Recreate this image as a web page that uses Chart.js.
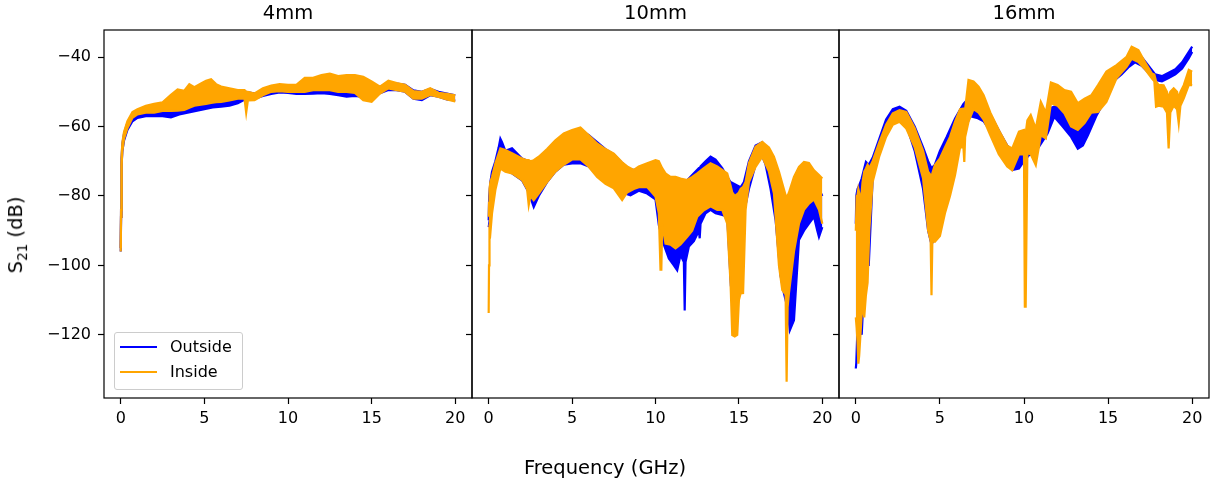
<!DOCTYPE html>
<html>
<head>
<meta charset="utf-8">
<script src="https://cdn.jsdelivr.net/npm/chart.js@4.4.0/dist/chart.umd.min.js"></script>
<style>
  body { margin: 0; background: #fff; }
  #fig { position: relative; width: 1224px; height: 487px; background: #fff; font-family: 'DejaVu Sans', sans-serif; color: #000; }
  canvas { position: absolute; top: 0; }
  .lbl { position: absolute; white-space: nowrap; font-size: 19.5px; }
  #legend { position: absolute; left: 114px; top: 332px; width: 127px; height: 56px; border: 1px solid #ccc; border-radius: 3px; background: rgba(255,255,255,0.8); font-size: 16px; }
  .row { position: absolute; left: 0; height: 20px; }
  .swatch { position: absolute; left: 5px; width: 37px; height: 2.4px; }
  .row span { position: absolute; left: 55px; top: 0; line-height: 20px; }
</style>
</head>
<body>
<div id="fig">
  <canvas id="c4" width="473" height="487" style="left:0px;width:473px;height:487px"></canvas>
  <canvas id="c10" width="378" height="487" style="left:462px;width:378px;height:487px"></canvas>
  <canvas id="c16" width="395" height="487" style="left:829px;width:395px;height:487px"></canvas>
  <div class="lbl" style="left:605px;top:467px;transform:translate(-50%,-50%)">Frequency (GHz)</div>
  <div class="lbl" style="left:17px;top:235px;transform:translate(-50%,-50%) rotate(-90deg)">S<sub style="font-size:13.5px">21</sub> (dB)</div>
  <div id="legend">
    <div class="row" style="top:4px"><div class="swatch" style="top:9px;background:#0000ff"></div><span>Outside</span></div>
    <div class="row" style="top:29px"><div class="swatch" style="top:9px;background:#ffa500"></div><span>Inside</span></div>
  </div>
</div>
<script>
// axis ticks (shared by all three panels)
const xTicks = [0, 5, 10, 15, 20];
const yTicks = [-120, -100, -80, -60, -40];
const panelTitles = ['4mm', '10mm', '16mm'];

// --- 4mm: frequency (GHz), upper and lower edge of the noisy trace (dB) ---
const f4Out  = [0,0.02,0.05,0.1,0.2,0.4,0.7,1.0,1.5,2.0,2.5,3.0,3.5,4.0,4.5,5.0,5.5,6.0,6.5,7.0,7.5,8.0,8.5,9.0,9.5,10.0,10.5,11.0,11.5,12.0,12.5,13.0,13.5,14.0,14.5,15.0,15.5,16.0,16.5,17.0,17.5,18.0,18.5,19.0,19.5,20.0];
const hi4Out = [-95,-84,-69,-65,-62,-59,-56.5,-55.5,-55,-55,-55,-55,-54.5,-54,-53.5,-53,-52.5,-52,-51.5,-50.8,-50,-50.5,-50,-49.2,-48.8,-48.8,-49,-49,-48.8,-48.8,-48.8,-49,-49,-49,-48,-48.2,-48.6,-47.3,-47.6,-48,-49.6,-50,-49.2,-50,-50.5,-51];
const lo4Out = [-96,-86,-71,-67,-64,-61,-58.5,-57.5,-57,-57,-57,-57.4,-56.5,-56,-55.5,-55,-54.5,-54.3,-54,-53.3,-52,-52,-51.2,-50.6,-50.2,-50.3,-50.6,-50.6,-50.5,-50.4,-50.6,-51,-51.4,-51.2,-51.5,-51,-50.4,-49.5,-49.5,-50,-52,-52.4,-51,-51.4,-52.2,-52.5];

const f4In  = [0,0.02,0.05,0.1,0.2,0.4,0.7,1.0,1.5,2.0,2.5,3.0,3.4,3.8,4.1,4.4,4.8,5.1,5.4,5.7,6.0,6.5,7.0,7.4,7.5,7.6,8.0,8.5,9.0,9.5,10.0,10.5,11.0,11.5,12.0,12.5,13.0,13.5,14.0,14.5,15.0,15.5,16.0,16.5,17.0,17.5,18.0,18.5,19.0,19.5,20.0];
const hi4In = [-95,-84,-68.5,-64.5,-61.5,-58.5,-55.8,-55,-54,-53.5,-53,-50.9,-49.3,-49.7,-47.8,-48.7,-47.6,-46.8,-46.4,-47.8,-48.5,-49,-49.5,-49.5,-50,-50,-50.5,-49,-48.2,-47.8,-48,-48,-46,-46,-45.2,-44.8,-45.5,-45.2,-45.2,-45.7,-47,-48.5,-46.8,-47.5,-48,-49.8,-50,-49,-50.3,-50.6,-51];
const lo4In = [-96,-86,-71,-67,-63.5,-60.5,-57.5,-56.5,-56,-56,-55.5,-55.5,-55.4,-55.2,-54.6,-54,-53.7,-53.5,-53.2,-53,-52.9,-52.5,-52,-52,-56,-52.5,-52.4,-51,-50,-49.8,-50,-50,-50,-49.5,-49.5,-49.5,-50,-50,-50.3,-52.4,-52.9,-50.5,-49,-49.5,-50,-52,-52,-50.9,-51.5,-52.2,-52.8];

// --- 10mm ---
const f10Out  = [0,0.03,0.1,0.2,0.4,0.6,0.7,0.8,1.0,1.4,2.0,2.4,2.7,3.0,3.5,4.0,4.5,5.0,5.5,6.0,6.5,7.0,7.5,8.0,8.5,9.0,9.5,10.0,10.2,10.5,10.8,11.1,11.3,11.5,11.7,11.75,11.8,12.0,12.3,12.6,12.65,12.7,13.0,13.3,13.6,14.0,14.3,14.5,14.7,14.9,15.1,15.3,15.6,16.0,16.4,16.6,16.9,17.2,17.5,17.7,17.9,18.05,18.3,18.6,18.9,19.2,19.5,19.7,19.8,20.0];
const hi10Out = [-87,-80,-76,-73,-70,-66,-63.5,-64.5,-67,-66.3,-69.2,-70,-70,-69,-67,-64.5,-62.5,-61.5,-61,-62.5,-64.5,-66.5,-68,-70.5,-72.5,-72.5,-71.5,-71,-72,-73.5,-74.5,-75,-75,-75.5,-76,-76,-76,-75,-73.5,-72,-72,-71.5,-70,-68.7,-69.5,-72,-74.5,-76,-76.5,-77,-77.5,-76,-70,-65.5,-64.5,-66.5,-70.5,-74,-78,-82,-85,-88,-83,-76,-73,-72.5,-74,-76,-78,-80];
const lo10Out = [-89,-88,-86,-82,-77,-72,-70,-71,-72.5,-73.5,-75.5,-79,-83.2,-80,-76,-73,-71,-70.6,-70.6,-71.5,-74,-76,-77.5,-79,-79.8,-78.5,-79.3,-81,-88.4,-94,-98,-100,-101.4,-97,-99,-113,-99,-94.6,-93,-90,-92.2,-88,-85,-84,-85,-85.5,-86,-104,-100,-100,-95,-85,-78,-71,-68.5,-71,-78,-87,-103,-108,-112,-118.7,-115.8,-92.7,-90,-88,-86,-90,-91.8,-89];

const f10In  = [0,0.02,0.05,0.1,0.2,0.4,0.7,1.0,1.4,2.0,2.3,2.4,2.5,2.7,3.0,3.5,4.0,4.5,5.0,5.5,6.0,6.5,7.0,7.5,8.0,8.3,8.7,9.0,9.5,10.0,10.2,10.3,10.35,10.4,10.6,10.9,11.2,11.5,11.9,12.2,12.5,12.9,13.3,13.7,14.0,14.3,14.5,14.6,14.75,14.9,15.0,15.1,15.25,15.4,15.6,16.0,16.4,16.8,17.1,17.4,17.6,17.8,17.86,17.92,18.0,18.3,18.6,18.9,19.2,19.5,19.8,20.0];
const hi10In = [-86,-82,-78,-76,-74.5,-70.6,-66.3,-66.8,-67.7,-69.2,-69.7,-69.7,-70,-69.7,-68.7,-66.5,-64,-62,-61,-60.3,-62.5,-64.9,-66.5,-67.8,-70.3,-71.5,-72.5,-71.5,-70.6,-69.7,-70,-71,-71.5,-72,-73.5,-74.5,-74.5,-75,-75.4,-74.5,-73.5,-72,-70.6,-71.5,-72.5,-73.5,-77,-79,-80,-79.5,-79,-78,-77.4,-75.9,-70.5,-65.8,-64.4,-66,-68.7,-73,-76.4,-79.8,-80,-80,-79,-74.5,-71.6,-70.2,-70.5,-72.6,-74,-75];
const lo10In = [-113.7,-100,-90,-90.8,-85,-78.3,-72.1,-73,-73.5,-75.4,-78,-82.6,-80,-81.2,-79.3,-76,-73,-71,-69.5,-69.5,-71.6,-74.5,-76.5,-77.8,-81.2,-79,-78,-77.5,-77.4,-80.2,-85,-101.2,-101.2,-88,-93.7,-94,-95.1,-94,-91.8,-90,-86,-84.1,-83,-84,-84,-88,-105.2,-120.1,-120.5,-120,-110,-108.1,-108,-84.1,-76,-71.6,-68.7,-73,-79.3,-100,-107.1,-108.4,-133.5,-112,-108,-96,-88,-84,-82.2,-81,-84,-88];

// --- 16mm ---
const f16Out  = [0,0.03,0.1,0.2,0.35,0.45,0.6,0.77,1.0,1.4,1.8,2.2,2.6,3.0,3.5,4.0,4.3,4.5,4.7,5.0,5.4,5.9,6.4,6.8,7.2,7.6,8.1,8.6,9.0,9.3,9.7,10.0,10.3,10.6,11.0,11.4,11.8,12.3,12.8,13.2,13.5,13.8,14.3,14.8,15.3,15.8,16.2,16.6,17.0,17.4,17.8,18.2,18.6,19.0,19.4,19.8,20.0];
const hi16Out = [-88,-80,-78,-77,-75,-73,-70.2,-71,-69,-63.5,-58,-55,-54.3,-55.5,-60,-66,-70,-72,-71,-67,-63,-57.7,-53.5,-51.4,-52.5,-54,-57.5,-62,-65.5,-67,-66.5,-65,-64.4,-63,-59,-55,-54.3,-54.6,-58,-59.2,-59,-58,-53,-48,-44,-42.5,-40.5,-39,-40,-42.5,-45,-45.5,-44.5,-43.5,-41.5,-38.5,-37];
const lo16Out = [-129.7,-128,-118,-112,-120,-110,-100,-99.9,-75,-67.5,-62,-58.5,-57.5,-59.5,-67,-78,-90,-94,-92,-84,-77,-70,-62,-57,-57.5,-58.5,-62,-67,-70.5,-72.5,-72.1,-70,-68.2,-68,-65,-62,-57.2,-60,-63,-66.4,-65.5,-62.5,-57,-52.5,-47,-45,-43,-41.5,-42.5,-44.5,-46.6,-47,-46,-45,-43.3,-40.3,-38.5];

const f16In  = [0,0.05,0.1,0.15,0.2,0.3,0.4,0.5,0.6,0.7,0.8,1.0,1.4,1.8,2.2,2.6,3.0,3.5,4.0,4.3,4.45,4.5,4.55,4.7,5.0,5.3,5.6,5.9,6.2,6.4,6.45,6.5,6.7,7.0,7.3,7.6,8.0,8.5,9.0,9.3,9.7,10.0,10.05,10.1,10.2,10.4,10.7,11.0,11.3,11.6,12.0,12.4,12.8,13.2,13.6,14.0,14.4,14.9,15.5,16.1,16.4,16.8,17.2,17.6,17.75,17.85,18.0,18.3,18.5,18.6,18.7,18.9,19.1,19.2,19.3,19.5,19.8,20.0];
const hi16In = [-90,-80,-79.8,-78,-79,-82,-76,-73,-72.1,-71,-72,-70,-64.5,-59.5,-56.2,-55.3,-55.8,-60.5,-67,-73,-74,-74,-73.5,-71.1,-69.2,-66,-63,-58.6,-55,-54.8,-56,-55,-46.6,-47,-48.5,-51,-56,-61,-65.5,-66.3,-61.5,-61,-62,-62,-58.2,-56.7,-60.6,-52.9,-56,-47.3,-48,-49.5,-50,-53.3,-52,-51,-48.1,-44.2,-42.3,-39.9,-37,-38,-41.5,-44.7,-45,-47,-48,-48.1,-50,-52,-50,-49,-50,-52,-50,-48.1,-43.7,-44.2];
const lo16In = [-115,-118,-122,-128.3,-126,-118,-110,-115,-108.6,-105,-90,-76,-68.5,-63,-59.5,-58.6,-60.6,-66,-75,-90,-93,-108.6,-93,-93.2,-91.5,-85,-80,-74,-66,-66,-70.2,-63,-58.6,-55,-56,-58,-62.5,-68,-71.5,-72.6,-68,-68,-111.9,-111.9,-67.7,-68,-71.1,-62.5,-63.4,-53.3,-54,-56.2,-60,-61,-59,-56,-55.8,-52.9,-46.1,-42.8,-40.5,-41.4,-43.5,-46.1,-47,-54.3,-54,-54.3,-56,-66.3,-56,-54,-55,-59.1,-54,-51.9,-48,-48.1];

const BLUE = '#0000ff';
const ORANGE = '#ffa500';
const FONT = 'DejaVu Sans';

Chart.defaults.font.family = FONT;
Chart.defaults.color = '#000';

function pts(f, v) {
    const n = Math.min(f.length, v.length);
    const out = [];
    for (let i = 0; i < n; i++) out.push({ x: f[i], y: v[i] });
    return out;
}

// a dense noisy trace is drawn as its upper edge + lower edge filled between them
function band(label, color, f, hi, lo, order) {
    const common = { borderColor: color, backgroundColor: color, borderWidth: 2.2, pointRadius: 0, tension: 0, order: order };
    return [
        Object.assign({ label: label, data: pts(f, hi), fill: false }, common),
        Object.assign({ label: label + ' low', data: pts(f, lo), fill: '-1' }, common)
    ];
}

// black box around the plot area, like matplotlib spines
const framePlugin = {
    id: 'frame',
    afterDraw(chart) {
        const { ctx, chartArea: a } = chart;
        ctx.save();
        ctx.strokeStyle = '#000';
        ctx.lineWidth = 1.2;
        ctx.strokeRect(a.left, a.top, a.right - a.left, a.bottom - a.top);
        ctx.restore();
    }
};

function makePanel(id, title, outs, ins, yWidth, padRight, showYLabels) {
    const datasets = [
        ...band('Outside', BLUE, outs[0], outs[1], outs[2], 1),
        ...band('Inside', ORANGE, ins[0], ins[1], ins[2], 0)
    ];
    new Chart(document.getElementById(id), {
        type: 'line',
        data: { datasets: datasets },
        plugins: [framePlugin],
        options: {
            responsive: false,
            animation: false,
            layout: { padding: { left: 0, right: padRight, top: 0, bottom: 0 } },
            plugins: {
                legend: { display: false },
                tooltip: { enabled: false },
                title: {
                    display: true, text: title, fullSize: false,
                    color: '#000',
                    font: { family: FONT, size: 19.5, weight: 'normal', lineHeight: '23px' },
                    padding: { top: 2, bottom: 5 }
                }
            },
            scales: {
                x: {
                    type: 'linear', min: -1, max: 21,
                    afterBuildTicks: s => { s.ticks = xTicks.map(v => ({ value: v })); },
                    afterFit: s => { s.height = 89; },
                    grid: { drawOnChartArea: false, drawTicks: true, tickLength: 6, tickColor: '#000', tickWidth: 1.2 },
                    border: { display: false },
                    ticks: { font: { size: 16 }, color: '#000', padding: 5, maxRotation: 0, autoSkip: false }
                },
                y: {
                    type: 'linear', min: -138.2, max: -32.2,
                    afterBuildTicks: s => { s.ticks = yTicks.map(v => ({ value: v })); },
                    afterFit: s => { s.width = yWidth; },
                    grid: { drawOnChartArea: false, drawTicks: true, tickLength: 6, tickColor: '#000', tickWidth: 1.2 },
                    border: { display: false },
                    ticks: {
                        display: showYLabels,
                        font: { size: 16 }, color: '#000', padding: 7,
                        callback: v => (v < 0 ? '\u2212' : '') + Math.abs(v)
                    }
                }
            }
        }
    });
}

makePanel('c4', panelTitles[0], [f4Out, hi4Out, lo4Out], [f4In, hi4In, lo4In], 104, 1, true);
makePanel('c10', panelTitles[1], [f10Out, hi10Out, lo10Out], [f10In, hi10In, lo10In], 10, 1, false);
makePanel('c16', panelTitles[2], [f16Out, hi16Out, lo16Out], [f16In, hi16In, lo16In], 10, 15, false);
</script>
</body>
</html>
